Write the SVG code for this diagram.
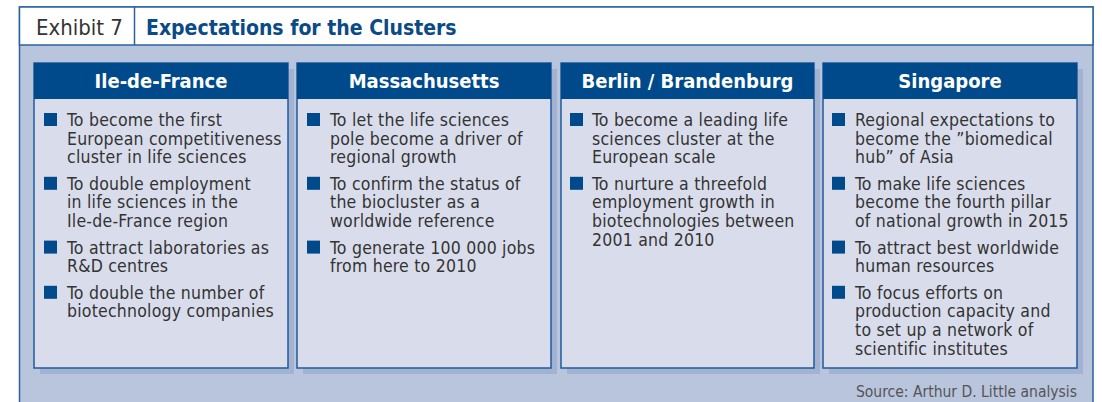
<svg xmlns="http://www.w3.org/2000/svg" width="1102" height="402" viewBox="0 0 1102 402">
<style>
.bg{fill:#ffffff}
.frame{fill:#b9c4dd;stroke:#2b62a0;stroke-width:1.5}
.tbar{fill:#ffffff;stroke:#2b62a0;stroke-width:1.5}
.shadow{fill:#a4b2d2}
.hdr{fill:#004a8b}
.body{fill:#d9ddeb;stroke:#1f5b9c;stroke-width:1.5}
.bul{fill:#004a8b}
.f{font-family:"DejaVu Sans Condensed","DejaVu Sans",sans-serif;font-stretch:condensed}
.txt{font-size:17.5px;fill:#333333;letter-spacing:0.22px}
.ht{font-size:20px;fill:#ffffff;font-weight:bold;text-anchor:middle}
.ex{font-size:22px;fill:#333333}
.tt{font-size:21px;fill:#0a4a87;font-weight:bold}
.src{font-size:15.5px;fill:#555555;text-anchor:end}
</style>
<rect class="bg" x="0" y="0" width="1102" height="402"/>
<g id="frame">
<rect class="frame" x="19.5" y="7" width="1073.5" height="400"/>
<rect class="tbar" x="19.5" y="7" width="1073.5" height="38"/>
<line x1="134.5" y1="7" x2="134.5" y2="45" stroke="#2b62a0" stroke-width="1.5"/>
<text class="f ex" x="36" y="35">Exhibit 7</text>
<text class="f tt" x="146" y="35">Expectations for the Clusters</text>
</g>
<g id="ile-de-france">
<rect class="shadow" x="40" y="69" width="254" height="305"/>
<rect class="body" x="34" y="63" width="254" height="305"/>
<rect class="hdr" x="34" y="63" width="254" height="36"/>
<text class="f ht" x="161" y="88">Ile-de-France</text>
<rect class="bul" x="44" y="113" width="13" height="13"/>
<rect class="bul" x="44" y="176.8" width="13" height="13"/>
<rect class="bul" x="44" y="240.6" width="13" height="13"/>
<rect class="bul" x="44" y="285.8" width="13" height="13"/>
<text class="f txt" x="67" y="126">To become the first</text>
<text class="f txt" x="67" y="144.6">European competitiveness</text>
<text class="f txt" x="67" y="163.2">cluster in life sciences</text>
<text class="f txt" x="67" y="189.8">To double employment</text>
<text class="f txt" x="67" y="208.4">in life sciences in the</text>
<text class="f txt" x="67" y="227">Ile-de-France region</text>
<text class="f txt" x="67" y="253.6">To attract laboratories as</text>
<text class="f txt" x="67" y="272.2">R&amp;D centres</text>
<text class="f txt" x="67" y="298.8">To double the number of</text>
<text class="f txt" x="67" y="317.4">biotechnology companies</text>
</g>
<g id="massachusetts">
<rect class="shadow" x="303" y="69" width="254" height="305"/>
<rect class="body" x="297" y="63" width="254" height="305"/>
<rect class="hdr" x="297" y="63" width="254" height="36"/>
<text class="f ht" x="424" y="88">Massachusetts</text>
<rect class="bul" x="307" y="113" width="13" height="13"/>
<rect class="bul" x="307" y="176.8" width="13" height="13"/>
<rect class="bul" x="307" y="240.6" width="13" height="13"/>
<text class="f txt" x="330" y="126">To let the life sciences</text>
<text class="f txt" x="330" y="144.6">pole become a driver of</text>
<text class="f txt" x="330" y="163.2">regional growth</text>
<text class="f txt" x="330" y="189.8">To confirm the status of</text>
<text class="f txt" x="330" y="208.4">the biocluster as a</text>
<text class="f txt" x="330" y="227">worldwide reference</text>
<text class="f txt" x="330" y="253.6">To generate 100 000 jobs</text>
<text class="f txt" x="330" y="272.2">from here to 2010</text>
</g>
<g id="berlin-brandenburg">
<rect class="shadow" x="567" y="69" width="253" height="305"/>
<rect class="body" x="561" y="63" width="253" height="305"/>
<rect class="hdr" x="561" y="63" width="253" height="36"/>
<text class="f ht" x="687.5" y="88">Berlin / Brandenburg</text>
<rect class="bul" x="570" y="113" width="13" height="13"/>
<rect class="bul" x="570" y="176.8" width="13" height="13"/>
<text class="f txt" x="592" y="126">To become a leading life</text>
<text class="f txt" x="592" y="144.6">sciences cluster at the</text>
<text class="f txt" x="592" y="163.2">European scale</text>
<text class="f txt" x="592" y="189.8">To nurture a threefold</text>
<text class="f txt" x="592" y="208.4">employment growth in</text>
<text class="f txt" x="592" y="227">biotechnologies between</text>
<text class="f txt" x="592" y="245.6">2001 and 2010</text>
</g>
<g id="singapore">
<rect class="shadow" x="829" y="69" width="254" height="305"/>
<rect class="body" x="823" y="63" width="254" height="305"/>
<rect class="hdr" x="823" y="63" width="254" height="36"/>
<text class="f ht" x="950" y="88">Singapore</text>
<rect class="bul" x="832" y="113" width="13" height="13"/>
<rect class="bul" x="832" y="176.8" width="13" height="13"/>
<rect class="bul" x="832" y="240.6" width="13" height="13"/>
<rect class="bul" x="832" y="285.8" width="13" height="13"/>
<text class="f txt" x="855" y="126">Regional expectations to</text>
<text class="f txt" x="855" y="144.6">become the ”biomedical</text>
<text class="f txt" x="855" y="163.2">hub” of Asia</text>
<text class="f txt" x="855" y="189.8">To make life sciences</text>
<text class="f txt" x="855" y="208.4">become the fourth pillar</text>
<text class="f txt" x="855" y="227">of national growth in 2015</text>
<text class="f txt" x="855" y="253.6">To attract best worldwide</text>
<text class="f txt" x="855" y="272.2">human resources</text>
<text class="f txt" x="855" y="298.8">To focus efforts on</text>
<text class="f txt" x="855" y="317.4">production capacity and</text>
<text class="f txt" x="855" y="336">to set up a network of</text>
<text class="f txt" x="855" y="354.6">scientific institutes</text>
</g>
<g id="connectors"/>
<text class="f src" x="1077" y="397">Source: Arthur D. Little analysis</text>
</svg>
